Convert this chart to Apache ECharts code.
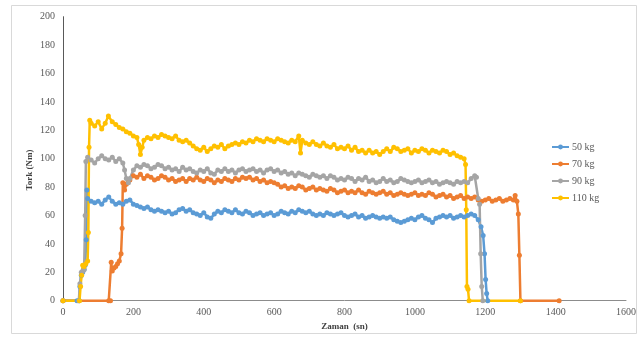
<!DOCTYPE html>
<html><head><meta charset="utf-8">
<script src="https://cdn.jsdelivr.net/npm/echarts@6/dist/echarts.min.js"></script>
<style>html,body{margin:0;padding:0;background:#fff}#c{width:642px;height:362px}</style>
</head><body><div id="c"></div>
<script>
// Time (sn) / Torque (Nm) pairs
const seriesNames = ["50 kg", "70 kg", "90 kg", "110 kg"];
const xTicks = [0, 200, 400, 600, 800, 1000, 1200, 1400, 1600];
const yTicks = [0, 20, 40, 60, 80, 100, 120, 140, 160, 180, 200];

const s50 = [[0,0],[40,0],[46,0],[48,10],[52,18],[56,20],[60,22],[63,25],[66,43],[68,78],[70,72],[80,70],[90,69],[100,70],[110,68],[120,71],[130,73],[140,70],[150,68],[160,69],[170,68],[180,70],[190,71],[200,68],[210,67],[220,66],[230,65],[240,66],[250,64],[260,63],[270,64],[280,63],[290,62],[300,63],[310,61],[320,62],[330,64],[340,65],[350,63],[360,64],[370,62],[380,61],[390,60],[400,62],[410,59],[420,58],[430,61],[440,63],[450,62],[460,64],[470,63],[480,62],[490,64],[500,62],[510,61],[520,63],[530,62],[540,60],[550,61],[560,62],[570,60],[580,61],[590,62],[600,60],[610,61],[620,63],[630,62],[640,61],[650,63],[660,62],[670,64],[680,63],[690,62],[700,63],[710,61],[720,60],[730,61],[740,60],[750,62],[760,61],[770,60],[780,61],[790,62],[800,60],[810,59],[820,60],[830,61],[840,59],[850,60],[860,58],[870,59],[880,60],[890,59],[900,58],[910,59],[920,58],[930,59],[940,57],[950,56],[960,55],[970,56],[980,57],[990,58],[1000,57],[1010,59],[1020,60],[1030,58],[1040,57],[1050,55],[1060,58],[1070,59],[1080,60],[1090,59],[1100,60],[1110,58],[1120,59],[1130,60],[1140,59],[1150,60],[1160,61],[1170,60],[1180,57],[1188,52],[1194,46],[1198,33],[1201,15],[1204,5],[1207,0]];

const s70 = [[0,0],[130,0],[135,0],[137,27],[140,21],[145,23],[150,24],[155,26],[160,28],[165,33],[168,51],[170,83],[175,78],[180,82],[185,84],[190,85],[200,88],[210,87],[220,89],[230,86],[240,88],[250,87],[260,85],[270,86],[280,88],[290,87],[300,85],[310,86],[320,84],[330,85],[340,86],[350,84],[360,86],[370,85],[380,87],[390,85],[400,84],[410,86],[420,85],[430,83],[440,85],[450,84],[460,86],[470,85],[480,84],[490,86],[500,85],[510,87],[520,86],[530,87],[540,85],[550,86],[560,84],[570,85],[580,83],[590,84],[600,83],[610,82],[620,80],[630,81],[640,79],[650,80],[660,79],[670,81],[680,80],[690,78],[700,79],[710,80],[720,78],[730,79],[740,78],[750,77],[760,79],[770,78],[780,76],[790,77],[800,78],[810,76],[820,77],[830,76],[840,78],[850,76],[860,75],[870,77],[880,76],[890,75],[900,76],[910,77],[920,75],[930,76],[940,74],[950,75],[960,76],[970,75],[980,74],[990,75],[1000,76],[1010,74],[1020,75],[1030,74],[1040,76],[1050,75],[1060,73],[1070,74],[1080,75],[1090,73],[1100,74],[1110,72],[1120,73],[1130,74],[1140,72],[1150,73],[1160,72],[1170,73],[1180,71],[1190,70],[1200,71],[1210,72],[1220,70],[1230,71],[1240,72],[1250,70],[1260,71],[1270,72],[1280,71],[1285,74],[1290,70],[1294,61],[1297,32],[1300,0],[1410,0]];

const s90 = [[0,0],[45,0],[48,12],[52,20],[56,21],[60,22],[63,60],[65,98],[70,101],[80,99],[90,97],[100,100],[110,102],[120,100],[130,99],[140,101],[150,98],[160,100],[170,97],[175,92],[180,86],[186,83],[190,86],[200,92],[210,95],[220,94],[230,96],[240,95],[250,93],[260,94],[270,96],[280,95],[290,93],[300,94],[310,92],[320,93],[330,91],[340,94],[350,92],[360,93],[370,91],[380,90],[390,92],[400,91],[410,93],[420,90],[430,89],[440,92],[450,91],[460,93],[470,91],[480,92],[490,90],[500,92],[510,93],[520,91],[530,92],[540,93],[550,91],[560,92],[570,90],[580,92],[590,93],[600,91],[610,92],[620,90],[630,91],[640,89],[650,90],[660,88],[670,90],[680,89],[690,88],[700,87],[710,89],[720,88],[730,87],[740,88],[750,86],[760,88],[770,87],[780,85],[790,86],[800,85],[810,87],[820,86],[830,84],[840,86],[850,85],[860,87],[870,84],[880,85],[890,83],[900,84],[910,86],[920,84],[930,85],[940,83],[950,84],[960,86],[970,85],[980,84],[990,83],[1000,84],[1010,85],[1020,83],[1030,84],[1040,85],[1050,83],[1060,84],[1070,82],[1080,83],[1090,84],[1100,83],[1110,82],[1120,84],[1130,83],[1140,84],[1150,83],[1160,86],[1170,88],[1175,87],[1180,72],[1184,68],[1187,33],[1190,10],[1193,0]];

const s110 = [[0,0],[47,0],[50,10],[53,18],[56,25],[60,24],[65,26],[70,28],[72,48],[74,108],[76,127],[80,125],[90,123],[100,126],[110,121],[120,125],[129,130],[140,126],[150,124],[160,122],[170,121],[180,119],[190,118],[200,116],[210,115],[215,110],[220,103],[225,108],[230,113],[240,115],[250,114],[260,116],[270,115],[280,117],[290,116],[300,115],[310,114],[320,116],[330,113],[340,112],[350,113],[360,111],[370,109],[380,107],[390,106],[400,108],[410,105],[420,107],[430,109],[440,108],[450,110],[460,107],[470,109],[480,110],[490,111],[500,110],[510,112],[520,111],[530,113],[540,112],[550,114],[560,113],[570,112],[580,114],[590,113],[600,112],[610,114],[620,113],[630,112],[640,111],[650,113],[660,112],[670,116],[675,104],[680,113],[690,111],[700,110],[710,112],[720,110],[730,109],[740,111],[750,109],[760,108],[770,110],[780,107],[790,108],[800,107],[810,109],[820,106],[830,108],[840,105],[850,106],[860,104],[870,106],[880,104],[890,105],[900,103],[910,105],[920,107],[930,105],[940,108],[950,107],[960,105],[970,106],[980,107],[990,104],[1000,106],[1010,105],[1020,107],[1030,106],[1040,104],[1050,106],[1060,105],[1070,104],[1080,106],[1090,105],[1100,103],[1110,104],[1120,102],[1130,101],[1140,100],[1144,96],[1146,64],[1148,10],[1151,8],[1154,0],[1300,0]];

const seriesData = [s50, s70, s90, s110];
const colors = ["#5B9BD5", "#ED7D31", "#A5A5A5", "#FFC000"];

const chart = echarts.init(document.getElementById('c'), null, {renderer: 'canvas'});
const serif = "'Liberation Serif', 'DejaVu Serif', serif";
chart.setOption({
  animation: false,
  backgroundColor: '#ffffff',
  color: colors,
  grid: {left: 63, top: 16.7, right: 16, bottom: 61.3, containLabel: false},
  xAxis: {
    type: 'value', min: xTicks[0], max: xTicks[xTicks.length - 1], interval: 200,
    splitLine: {show: false},
    axisLine: {show: true, lineStyle: {color: '#8c8c8c', width: 1}},
    axisTick: {show: false},
    axisLabel: {color: '#595959', fontFamily: serif, fontSize: 10, margin: 7, formatter: v => String(v)},
    name: 'Zaman  (sn)', nameLocation: 'middle', nameGap: 21,
    nameTextStyle: {color: '#404040', fontFamily: serif, fontSize: 9, fontWeight: 'bold'}
  },
  yAxis: {
    type: 'value', min: yTicks[0], max: yTicks[yTicks.length - 1], interval: 20,
    splitLine: {show: false},
    axisLine: {show: true, lineStyle: {color: '#595959', width: 1}},
    axisTick: {show: false},
    axisLabel: {color: '#595959', fontFamily: serif, fontSize: 10, margin: 8, formatter: v => String(v)}
  },
  legend: {
    orient: 'vertical', left: 546, top: 137, itemGap: 7,
    itemWidth: 17, itemHeight: 6,
    textStyle: {color: '#595959', fontFamily: serif, fontSize: 10, padding: [0, 0, 0, -2]},
    data: seriesNames
  },
  graphic: [
    {type: 'rect', shape: {x: 11.5, y: 5.5, width: 625, height: 328}, style: {fill: 'none', stroke: '#d9d9d9', lineWidth: 1}, silent: true, z: -10},
    {type: 'text', x: 30, y: 170, rotation: Math.PI / 2,
     style: {text: 'Tork (Nm)', fill: '#404040', font: "bold 9px 'Liberation Serif', serif", align: 'center', verticalAlign: 'middle'}}
  ],
  series: seriesNames.map((n, i) => ({
    name: n, type: 'line', data: seriesData[i],
    symbol: 'circle', symbolSize: 5, showSymbol: true, showAllSymbol: true,
    lineStyle: {width: 2.5, color: colors[i]},
    itemStyle: {color: colors[i]},
    emphasis: {disabled: true}
  }))
});
</script>
</body></html>
